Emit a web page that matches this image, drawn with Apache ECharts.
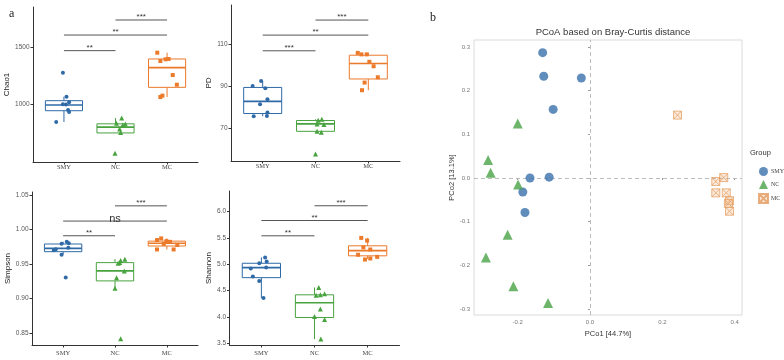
<!DOCTYPE html>
<html>
<head>
<meta charset="utf-8">
<script src="https://cdn.jsdelivr.net/npm/echarts@6/dist/echarts.min.js"></script>
<style>
  html, body { margin: 0; padding: 0; background: #fff; }
  #chart { width: 784px; height: 360px; }
</style>
</head>
<body>
<div id="chart"></div>
<script>
const groups = ['SMY', 'NC', 'MC'];
const colors = ['#2f6aa7', '#48a33f', '#ec7a2b'];
const pcoaColors = ['#3a70ad', '#4aa347', '#e39a5c'];

// box summaries: [low whisker, Q1, median, Q3, high whisker]
const chao1Box = [[842, 941, 991, 1029, 1064], [746, 746, 797, 826, 876], [1061, 1146, 1319, 1395, 1450]];
const chao1Vals = [[1275, 1064, 1015, 997, 995, 947, 930, 842], [877, 830, 825, 815, 781, 749, 567], [1450, 1377, 1392, 1395, 1254, 1169, 1073, 1061]];
const chao1Jit = [[0.98, 1.05, 1.10, 0.98, 1.04, 1.08, 1.10, 0.85], [2.12, 2.02, 2.19, 2.14, 2.08, 2.10, 1.99], [2.81, 2.87, 2.97, 3.03, 3.11, 3.19, 2.91, 2.87]];
const chao1Sig = [[1, 2, 1468], [1, 3, 1605], [2, 3, 1737]];
const chao1Lab = ['**', '**', '***'];

const pdBox = [[75.8, 77.1, 82.8, 89.4, 92.5], [68.2, 68.7, 72.2, 73.8, 74.4], [88.1, 93.4, 100.7, 104.6, 105.7]];
const pdVals = [[90.1, 92.5, 89.0, 83.8, 81.5, 77.6, 75.8, 75.9], [73.9, 74.4, 71.9, 72.2, 68.3, 68.7, 58.0], [105.7, 105.0, 105.0, 101.5, 99.4, 94.2, 91.7, 88.1]];
const pdJit = [[0.81, 0.97, 1.05, 1.09, 0.95, 1.09, 0.83, 1.08], [2.05, 2.12, 2.16, 2.03, 2.11, 2.03, 2.00], [2.80, 2.87, 2.97, 3.02, 3.10, 3.18, 2.93, 2.88]];
const pdSig = [[1, 2, 106.7], [1, 3, 114.1], [2, 3, 121.2]];
const pdLab = ['***', '**', '***'];

const simpBox = [[0.9635, 0.9678, 0.9727, 0.9789, 0.9822], [0.915, 0.9256, 0.940, 0.952, 0.957], [0.971, 0.976, 0.980, 0.983, 0.987]];
const simpVals = [[0.9793, 0.9822, 0.9799, 0.9735, 0.9698, 0.9712, 0.9635, 0.9304], [0.957, 0.955, 0.952, 0.940, 0.930, 0.915, 0.842, 0.951], [0.987, 0.9846, 0.983, 0.982, 0.979, 0.9774, 0.971, 0.971]];
const simpJit = [[0.97, 1.07, 1.11, 1.10, 0.82, 0.86, 0.97, 1.05], [2.19, 2.11, 2.09, 2.18, 2.03, 2.00, 2.11, 2.06], [2.89, 2.81, 2.99, 3.06, 2.94, 3.20, 3.13, 2.81]];
const simpSig = [[1, 2, 0.9908], [1, 3, 1.012], [2, 3, 1.034]];
const simpLab = ['**', 'ns', '***'];

const shanBox = [[4.356, 4.746, 4.936, 5.019, 5.13], [3.58, 3.99, 4.27, 4.42, 4.56], [5.10, 5.16, 5.26, 5.35, 5.50]];
const shanVals = [[5.13, 5.05, 5.02, 4.94, 4.92, 4.77, 4.68, 4.36], [4.56, 4.44, 4.42, 4.41, 4.15, 4.01, 3.95, 3.58], [5.50, 5.45, 5.32, 5.28, 5.18, 5.14, 5.09, 5.11]];
const shanJit = [[1.07, 1.10, 0.96, 1.09, 0.80, 0.84, 0.96, 1.04], [2.08, 2.19, 2.11, 2.03, 2.11, 2.00, 2.19, 2.12], [2.88, 2.99, 2.92, 3.05, 2.82, 3.18, 2.95, 3.05]];
const shanSig = [[1, 2, 5.54], [1, 3, 5.83], [2, 3, 6.11]];
const shanLab = ['**', '**', '***'];

// PCoA coordinates [PCo1, PCo2]
const pcoaSMY = [[-0.131, 0.287], [-0.128, 0.233], [-0.024, 0.229], [-0.102, 0.157], [-0.166, 0.0], [-0.113, 0.002], [-0.186, -0.032], [-0.180, -0.079]];
const pcoaNC = [[-0.200, 0.125], [-0.282, 0.041], [-0.275, 0.012], [-0.199, -0.015], [-0.228, -0.130], [-0.288, -0.182], [-0.212, -0.248], [-0.116, -0.286]];
const pcoaMC = [[0.242, 0.144], [0.348, -0.008], [0.370, 0.001], [0.348, -0.034], [0.377, -0.034], [0.386, -0.052], [0.383, -0.058], [0.386, -0.076]];

const boxPanels = [
  { name: 'Chao1', box: chao1Box, vals: chao1Vals, jit: chao1Jit, sig: chao1Sig, lab: chao1Lab,
    grid: { left: 33, top: 7, width: 165, height: 155 }, min: 491, max: 1851,
    ticks: [1000, 1500], dec: 0, nameGap: 19, xMargin: 2 },
  { name: 'PD', box: pdBox, vals: pdVals, jit: pdJit, sig: pdSig, lab: pdLab,
    grid: { left: 231, top: 5, width: 169, height: 156 }, min: 54.7, max: 128.3,
    ticks: [70, 90, 110], dec: 0, nameGap: 16, xMargin: 2 },
  { name: 'Simpson', box: simpBox, vals: simpVals, jit: simpJit, sig: simpSig, lab: simpLab,
    grid: { left: 32, top: 192, width: 166, height: 153 }, min: 0.833, max: 1.054,
    ticks: [0.85, 0.90, 0.95, 1.00, 1.05], dec: 2, nameGap: 18, xMargin: 5 },
  { name: 'Shannon', box: shanBox, vals: shanVals, jit: shanJit, sig: shanSig, lab: shanLab,
    grid: { left: 229.5, top: 191, width: 170, height: 154 }, min: 3.468, max: 6.39,
    ticks: [3.5, 4.0, 4.5, 5.0, 5.5, 6.0], dec: 1, nameGap: 14, xMargin: 5 }
];

const shapes = ['circle', 'triangle', 'rect'];

function renderBox(params, api) {
  const x = api.value(0);
  const c = colors[x - 1];
  const w = api.size([0.72, 0])[0];
  const lo = api.coord([x, api.value(1)]);
  const q1 = api.coord([x, api.value(2)]);
  const md = api.coord([x, api.value(3)]);
  const q3 = api.coord([x, api.value(4)]);
  const hi = api.coord([x, api.value(5)]);
  const cx = q1[0];
  return {
    type: 'group',
    children: [
      { type: 'line', shape: { x1: cx, y1: lo[1], x2: cx, y2: q1[1] }, style: { stroke: c, lineWidth: 1 } },
      { type: 'line', shape: { x1: cx, y1: q3[1], x2: cx, y2: hi[1] }, style: { stroke: c, lineWidth: 1 } },
      { type: 'rect', shape: { x: cx - w / 2, y: q3[1], width: w, height: q1[1] - q3[1] },
        style: { fill: '#fff', stroke: c, lineWidth: 1 } },
      { type: 'line', shape: { x1: cx - w / 2, y1: md[1], x2: cx + w / 2, y2: md[1] },
        style: { stroke: c, lineWidth: 1.7 } }
    ]
  };
}

function sigRenderer(labels) {
  return function (params, api) {
    const a = api.coord([api.value(0), api.value(2)]);
    const b = api.coord([api.value(1), api.value(2)]);
    const lab = labels[params.dataIndex];
    const ns = lab === 'ns';
    return {
      type: 'group',
      children: [
        { type: 'line', shape: { x1: a[0], y1: a[1], x2: b[0], y2: b[1] },
          style: { stroke: '#555', lineWidth: 1 } },
        { type: 'text', x: (a[0] + b[0]) / 2, y: ns ? a[1] + 3 : a[1] + 1,
          style: { text: lab, align: 'center', verticalAlign: 'bottom',
            fontSize: ns ? 11 : 8, fill: '#333', fontFamily: 'Liberation Sans, Arial' } }
      ]
    };
  };
}

const grids = [], xAxes = [], yAxes = [], series = [];

boxPanels.forEach((p, i) => {
  grids.push(Object.assign({ outerBoundsMode: 'none' }, p.grid));
  xAxes.push({
    type: 'value', gridIndex: i, min: 0.4, max: 3.6,
    splitLine: { show: false },
    axisLine: { show: true, lineStyle: { color: '#333', width: 1 } },
    axisTick: { show: true, length: 2.5, customValues: [1, 2, 3], lineStyle: { color: '#333' } },
    axisLabel: { customValues: [1, 2, 3], formatter: v => groups[Math.round(v) - 1] || '',
      fontFamily: 'Liberation Serif, Times New Roman, serif', fontSize: 6.5, color: '#444', margin: p.xMargin }
  });
  yAxes.push({
    type: 'value', gridIndex: i, min: p.min, max: p.max,
    name: p.name, nameLocation: 'middle', nameGap: p.nameGap, nameRotate: 90,
    nameTextStyle: { fontFamily: 'Liberation Sans, Arial', fontSize: 8, color: '#222' },
    splitLine: { show: false },
    axisLine: { show: true, lineStyle: { color: '#333', width: 1 } },
    axisTick: { show: true, length: 2.5, customValues: p.ticks, lineStyle: { color: '#333' } },
    axisLabel: { customValues: p.ticks, formatter: v => v.toFixed(p.dec),
      fontFamily: 'Liberation Sans, Arial', fontSize: 6.5, color: '#555', margin: 3.5 }
  });
  series.push({
    type: 'custom', name: p.name + '-box', xAxisIndex: i, yAxisIndex: i,
    renderItem: renderBox, silent: true, z: 2,
    data: p.box.map((b, k) => [k + 1].concat(b))
  });
  groups.forEach((g, k) => {
    series.push({
      type: 'scatter', name: p.name + '-' + g, xAxisIndex: i, yAxisIndex: i,
      symbol: shapes[k], symbolSize: k === 1 ? 5 : 4, z: 3, silent: true,
      itemStyle: { color: colors[k], opacity: 1 },
      data: p.vals[k].map((v, j) => [p.jit[k][j], v])
    });
  });
  series.push({
    type: 'custom', name: p.name + '-sig', xAxisIndex: i, yAxisIndex: i,
    renderItem: sigRenderer(p.lab), silent: true, z: 4,
    data: p.sig
  });
});

// PCoA panel
const pi = boxPanels.length;
grids.push({ left: 474, top: 40, width: 268, height: 275, show: true, borderColor: '#dadada',
  borderWidth: 1, backgroundColor: '#fff', outerBoundsMode: 'none' });
xAxes.push({
  type: 'value', gridIndex: pi, min: -0.321, max: 0.4205,
  name: 'PCo1 [44.7%]', nameLocation: 'middle', nameGap: 11,
  nameTextStyle: { fontFamily: 'Liberation Sans, Arial', fontSize: 7.5, color: '#333' },
  splitLine: { show: false }, axisLine: { show: false },
  axisTick: { show: true, length: 2, customValues: [-0.2, 0, 0.2, 0.4], lineStyle: { color: '#999' } },
  axisLabel: { customValues: [-0.2, 0, 0.2, 0.4], formatter: v => v.toFixed(1),
    fontFamily: 'Liberation Sans, Arial', fontSize: 6, color: '#777', margin: 4 }
});
yAxes.push({
  type: 'value', gridIndex: pi, min: -0.3137, max: 0.316,
  name: 'PCo2 [13.1%]', nameLocation: 'middle', nameGap: 15, nameRotate: 90,
  nameTextStyle: { fontFamily: 'Liberation Sans, Arial', fontSize: 7.5, color: '#333' },
  splitLine: { show: false }, axisLine: { show: false },
  axisTick: { show: true, length: 2, customValues: [-0.3, -0.2, -0.1, 0, 0.1, 0.2, 0.3], lineStyle: { color: '#999' } },
  axisLabel: { customValues: [-0.3, -0.2, -0.1, 0, 0.1, 0.2, 0.3], formatter: v => v.toFixed(1),
    fontFamily: 'Liberation Sans, Arial', fontSize: 6, color: '#777', margin: 4 }
});

const sqCross = 'path://M0,0L10,0L10,10L0,10ZM0,0L10,10M10,0L0,10';
series.push({
  type: 'scatter', name: 'SMY', xAxisIndex: pi, yAxisIndex: pi, symbol: 'circle', symbolSize: 9, z: 3,
  itemStyle: { color: pcoaColors[0] }, data: pcoaSMY,
  markLine: {
    silent: true, symbol: 'none', label: { show: false }, z: 1,
    lineStyle: { type: [4, 3], color: '#b5b5b5', width: 0.9 },
    data: [{ xAxis: 0 }, { yAxis: 0 }]
  }
});
series.push({
  type: 'scatter', name: 'NC', xAxisIndex: pi, yAxisIndex: pi, symbol: 'triangle', symbolSize: 10, z: 3,
  itemStyle: { color: pcoaColors[1] }, data: pcoaNC
});
series.push({
  type: 'scatter', name: 'MC', xAxisIndex: pi, yAxisIndex: pi, symbol: sqCross, symbolSize: 8, z: 3,
  itemStyle: { color: 'rgba(240,180,125,0.35)', borderColor: pcoaColors[2], borderWidth: 0.9 }, data: pcoaMC
});

const chart = echarts.init(document.getElementById('chart'), null, { renderer: 'canvas' });
chart.setOption({
  animation: false,
  backgroundColor: '#fff',
  title: {
    text: 'PCoA based on Bray-Curtis distance', left: 608, top: 22, textAlign: 'center',
    textStyle: { fontFamily: 'Liberation Sans, Arial', fontSize: 9.5, fontWeight: 'normal', color: '#333' }
  },
  legend: {
    data: groups, orient: 'vertical', left: 753, top: 162, itemWidth: 9, itemHeight: 9, itemGap: 4,
    selectedMode: false,
    textStyle: { fontFamily: 'Liberation Serif, Times New Roman, serif', fontSize: 6, color: '#444', padding: [0, 0, 0, -2] }
  },
  graphic: [
    { type: 'text', left: 9, top: 8, style: { text: 'a', fontFamily: 'Liberation Serif, serif', fontSize: 12, fill: '#222' } },
    { type: 'text', left: 430, top: 12, style: { text: 'b', fontFamily: 'Liberation Serif, serif', fontSize: 12, fill: '#222' } },
    { type: 'text', left: 750, top: 149, style: { text: 'Group', fontFamily: 'Liberation Sans, Arial', fontSize: 7.5, fill: '#333' } }
  ],
  grid: grids,
  xAxis: xAxes,
  yAxis: yAxes,
  series: series
});
</script>
</body>
</html>
